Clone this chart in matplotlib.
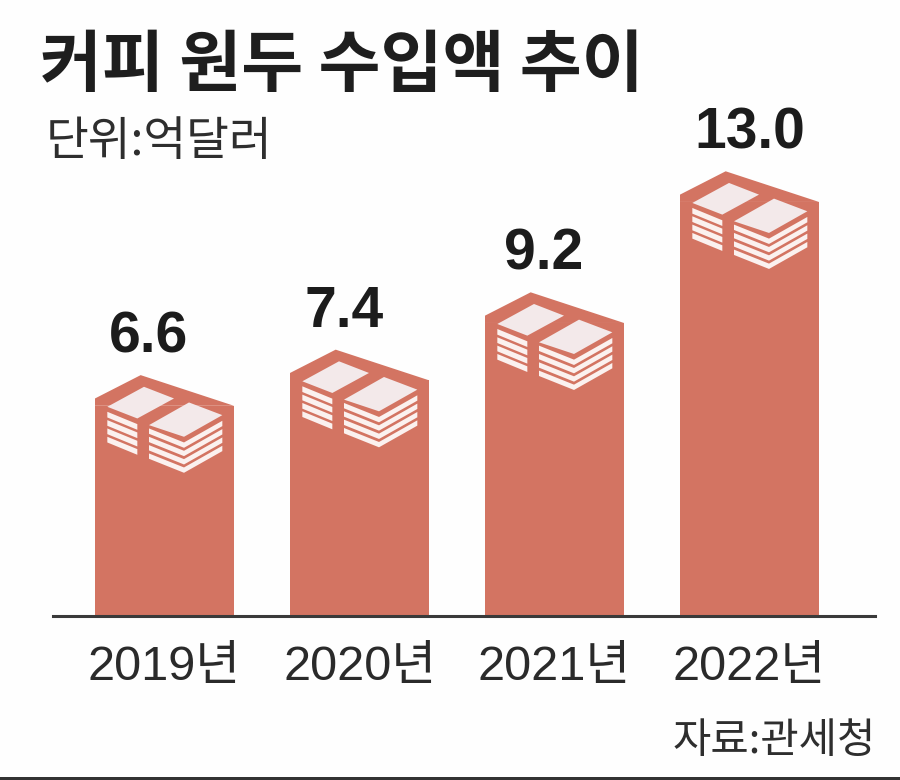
import matplotlib
matplotlib.use("Agg")
import matplotlib.pyplot as plt
from matplotlib.patches import Polygon, Rectangle

years = ["2019년", "2020년", "2021년", "2022년"]
values = [6.6, 7.4, 9.2, 13.0]
value_labels = ["6.6", "7.4", "9.2", "13.0"]
title = "커피 원두 수입액 추이"
unit_text = "단위:억달러"
source_text = "자료:관세청"

BAR = "#D37462"
PAPER = "#F3E9EA"
DARK = "#2A2A2A"
CJK = "Noto Sans CJK KR"
LATIN = ["Liberation Sans", CJK]

W, H = 900, 780
SPACING = 195.0   # px per category
PX_PER_UNIT = 31.85
BASE = 616
AX_L, AX_R, AX_T = 53, 875, 100
CENTER0 = 164.5
BAR_W = 139 / SPACING
label_dx = [-16, -15, -11, 0]

fig = plt.figure(figsize=(W / 100, H / 100), dpi=100, facecolor="#FEFEFE")
ax = fig.add_axes([AX_L / W, (H - BASE) / H, (AX_R - AX_L) / W, (BASE - AX_T) / H])
ax.set_facecolor("none")
ax.set_xlim((AX_L - CENTER0) / SPACING, (AX_R - CENTER0) / SPACING)
ax.set_ylim(0, (BASE - AX_T) / PX_PER_UNIT)
positions = range(len(values))
ax.bar(positions, values, width=BAR_W, color=BAR, linewidth=0, zorder=2)


def icon_polys(i, v):
    def loc(zx, zy):
        return (i - BAR_W / 2 + (zx - 28) / 3 / SPACING, v + (122 - zy) / 3 / PX_PER_UNIT)

    cap = [loc(28, 122), loc(28, 100), loc(165, 30), loc(445, 122)]
    ax.add_patch(Polygon(cap, closed=True, fc=BAR, ec="none", zorder=2))
    for d in [[(65, 125), (175, 65), (265, 100), (155, 160)],
              [(190, 180), (310, 112), (410, 150), (295, 215)]]:
        ax.add_patch(Polygon([loc(*p) for p in d], closed=True, fc=PAPER, ec="none", zorder=3))
    for k in range(4):
        o = 25 * k
        left = [(65, 140 + o), (155, 177 + o), (155, 194 + o), (65, 157 + o)]
        face_l = [(190, 190 + o), (295, 232 + o), (295, 248 + o), (190, 206 + o)]
        face_r = [(295, 232 + o), (410, 167 + o), (410, 183 + o), (295, 248 + o)]
        for poly in (left, face_l, face_r):
            ax.add_patch(Polygon([loc(*p) for p in poly], closed=True, fc="#FBF1EF", ec="none", zorder=3))


for i, v in enumerate(values):
    icon_polys(i, v)
    ax.annotate(value_labels[i], xy=(i, v), xytext=(label_dx[i] * 0.72, 68 * 0.72),
                textcoords="offset points", ha="center", va="center",
                fontsize=41, fontweight="bold", family=LATIN, color="#1C1C1C",
                annotation_clip=False)

for s in ("top", "left", "right"):
    ax.spines[s].set_visible(False)
ax.spines["bottom"].set_linewidth(2.2)
ax.spines["bottom"].set_color("#3A3A3A")
ax.spines["bottom"].set_zorder(4)
ax.set_yticks([])
ax.set_xticks(list(positions))
ax.set_xticklabels(years, family=LATIN, fontsize=35, color=DARK)
ax.tick_params(axis="x", length=0, pad=21)

fig.text(40 / W, 1 - 66 / H, title, family=CJK, fontweight="bold", fontsize=48.5,
         color="#1E1E1E", ha="left", va="center")
fig.text(46 / W, 1 - 142 / H, unit_text, family=CJK, fontsize=33.5,
         color="#2E2E2E", ha="left", va="center")
fig.text(876 / W, 1 - 741 / H, source_text, family=CJK, fontsize=30,
         color="#2E2E2E", ha="right", va="center")
fig.add_artist(Rectangle((0, 0), 1, 3 / H, transform=fig.transFigure, fc="#333333", ec="none"))
fig.savefig("out.png", dpi=100, facecolor=fig.get_facecolor())
